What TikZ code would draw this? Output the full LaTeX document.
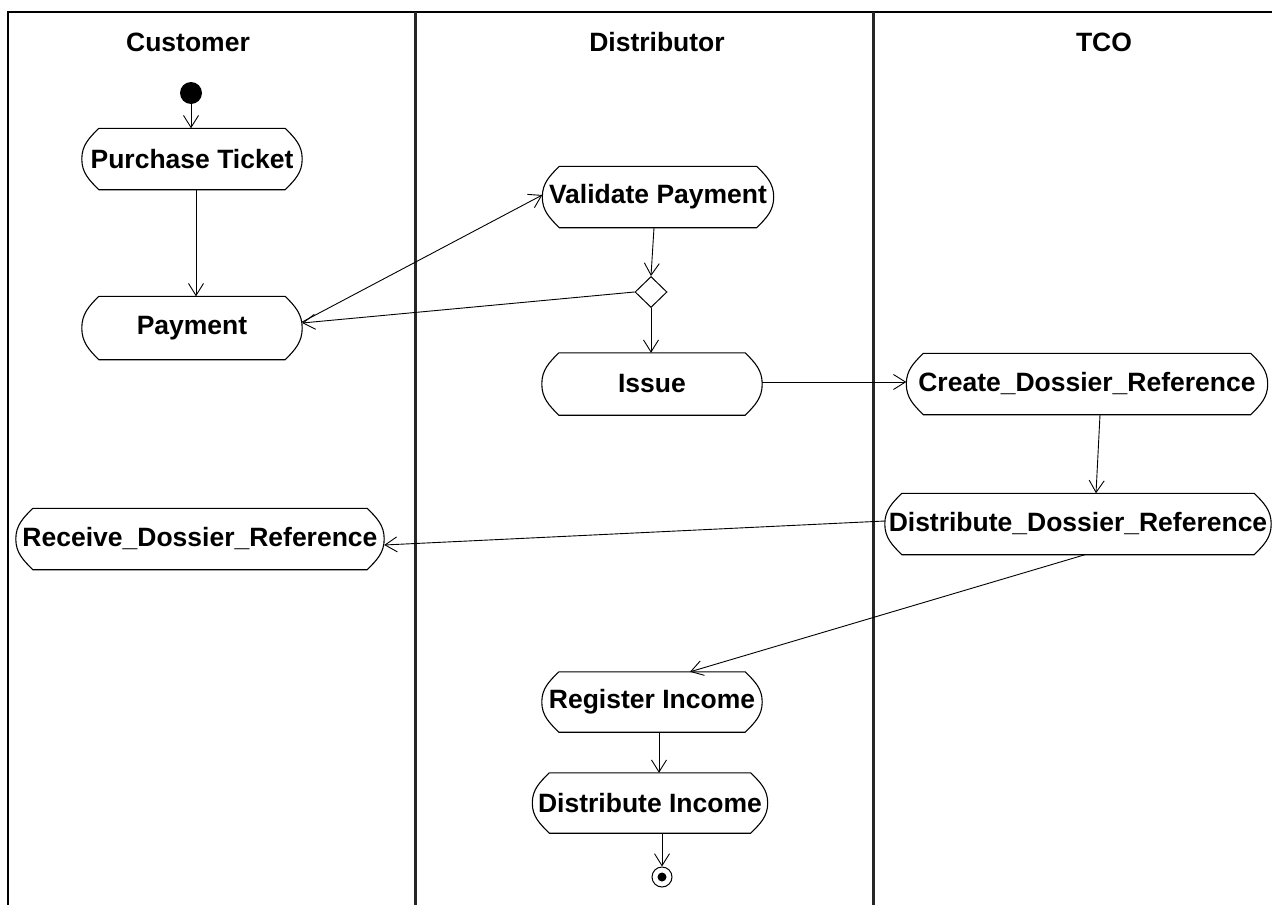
\documentclass[tikz,border=0pt]{standalone}
\usepackage{fontspec}
\setmainfont{Liberation Sans}
\usetikzlibrary{arrows.meta,shapes.geometric}

\tikzset{
  act/.style={rectangle, inner sep=0pt, minimum height=61pt,
    font=\fontsize{26.5}{30}\selectfont\bfseries},
  lane/.style={font=\fontsize{26.5}{30}\selectfont\bfseries, inner sep=0pt},
  flow/.style={line width=0.9pt, -{Straight Barb[length=12pt,width=15pt,line width=0.9pt]}},
  outline/.style={line width=1.1pt},
  frame/.style={line width=2pt},
  divider/.style={line width=3pt, draw=black!85},
}

% action-state outline: flat top and bottom, arched ends
\newcommand\actshape[2][17pt]{%
  \draw[outline] ([xshift=#1]#2.north west) -- ([xshift=-#1]#2.north east)
    to[out=-45,in=90] (#2.east) to[out=-90,in=45] ([xshift=-#1]#2.south east)
    -- ([xshift=#1]#2.south west)
    to[out=135,in=-90] (#2.west) to[out=90,in=-135] ([xshift=#1]#2.north west);}

\begin{document}
\begin{tikzpicture}[x=1pt,y=-1pt]
\useasboundingbox (0,0) rectangle (1272,905);

% swimlane frame
\draw[frame] (1272,12) -- (8,12) -- (8,905);
\draw[divider] (415,12) -- (415,905);
\draw[divider] (873,12) -- (873,905);

\node[lane] (hcust) at (188,42) {Customer};
\node[lane] (hdist) at (657,42) {Distributor};
\node[lane] (htco)  at (1104,42) {TCO};

% start / end
\node[circle, fill=black, inner sep=0pt, minimum size=22pt] (start) at (191,93) {};
\node[circle, draw, line width=1pt, inner sep=0pt, minimum size=20pt] (end) at (662,877) {};
\fill (end.center) circle (4.5pt);

% decision
\node[diamond, draw, line width=1pt, inner sep=0pt, minimum width=32pt, minimum height=31pt] (dec) at (651,292) {};

% actions
\node[act, minimum width=220pt] (pt)    at (192,159) {Purchase Ticket};
\node[act, minimum width=220pt, minimum height=63pt] (pay) at (192,328) {Payment};
\node[act, minimum width=231pt] (vp)    at (658,197) {Validate Payment};
\node[act, minimum width=220pt, minimum height=62pt] (issue) at (652,384) {Issue};
\node[act, minimum width=361pt] (cdr)   at (1087,384) {Create\_Dossier\_Reference};
\node[act, minimum width=386pt] (ddr)   at (1078,524) {Distribute\_Dossier\_Reference};
\node[act, minimum width=368pt] (rdr)   at (200,539) {Receive\_Dossier\_Reference};
\node[act, minimum width=220pt, minimum height=60pt] (ri) at (652,702) {Register Income};
\node[act, minimum width=235pt, minimum height=60pt] (di) at (650,803) {Distribute Income};

\foreach \n in {pt,pay,vp,issue,cdr,ddr,rdr,ri,di} {\actshape{\n}}

% flows
\draw[flow] (start.south) -- (start.south |- pt.north);
\draw[flow] ([xshift=4pt]pt.south) -- ([xshift=4pt]pay.north);
\draw[flow] ([yshift=6pt]pay.east) -- ([yshift=2pt]vp.west);
\draw[flow] (dec.west) -- ([yshift=5pt]pay.east);
\draw[flow] ([xshift=-4pt]vp.south) -- (dec.north);
\draw[flow] (dec.south) -- (dec.south |- issue.north);
\draw[flow] ([yshift=2pt]issue.east) -- ([yshift=2pt]cdr.west);
\draw[flow] ([xshift=13pt]cdr.south) -- ([xshift=18pt]ddr.north);
\draw[flow] ([yshift=3pt]ddr.west) -- ([yshift=-6pt]rdr.east);
\draw[flow] ([xshift=7pt]ddr.south) -- ([xshift=38pt]ri.north);
\draw[flow] ([xshift=7pt]ri.south) -- ([xshift=9pt]di.north);
\draw[flow] ([xshift=12pt]di.south) -- (end.north);
\end{tikzpicture}
\end{document}
